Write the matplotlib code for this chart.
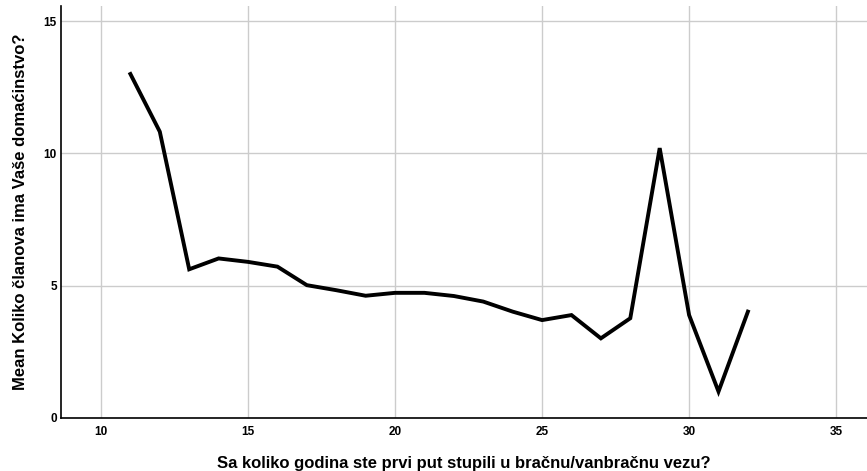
import matplotlib.pyplot as plt

# Mean household size by age at first marriage / partnership
age = [11, 12, 13, 14, 15, 16, 17, 18, 19, 20, 21, 22, 23, 24, 25, 26, 27, 28, 29, 30, 31, 32]
mean_members = [13.0, 10.82, 5.62, 6.03, 5.9, 5.72, 5.02, 4.83, 4.62, 4.73, 4.73, 4.61,
                4.4, 4.02, 3.7, 3.89, 3.01, 3.77, 10.2, 3.89, 1.0, 4.02]

x_ticks = [10, 15, 20, 25, 30, 35]
y_ticks = [0, 5, 10, 15]

plt.rcParams['font.family'] = ['Liberation Sans', 'DejaVu Sans']

fig = plt.figure(figsize=(8.67, 4.71), dpi=100)
ax = fig.add_axes([61 / 867, 53 / 471, (867 - 61) / 867, (418 - 6) / 471])

ax.plot(age, mean_members, color='black', linewidth=2.8, solid_joinstyle='miter')

ax.set_xlim(8.64, 36.05)
ax.set_ylim(0, 15.57)
ax.set_xticks(x_ticks)
ax.set_yticks(y_ticks)
ax.grid(True, color='#cccccc', linewidth=1.0)
ax.set_axisbelow(True)

for side in ['top', 'right']:
    ax.spines[side].set_visible(False)
for side in ['left', 'bottom']:
    ax.spines[side].set_linewidth(1.2)
ax.tick_params(length=0, labelsize=8.5)
ax.tick_params(axis='x', pad=6)
ax.tick_params(axis='y', pad=3)
for lbl in ax.get_xticklabels() + ax.get_yticklabels():
    lbl.set_fontweight('bold')

ax.set_xlabel('Sa koliko godina ste prvi put stupili u bračnu/vanbračnu vezu?',
              fontsize=12, fontweight='bold', labelpad=13)
ax.set_ylabel('Mean Koliko članova ima Vaše domaćinstvo?',
              fontsize=12, fontweight='bold', labelpad=11)

fig.savefig('out.png', dpi=100)
